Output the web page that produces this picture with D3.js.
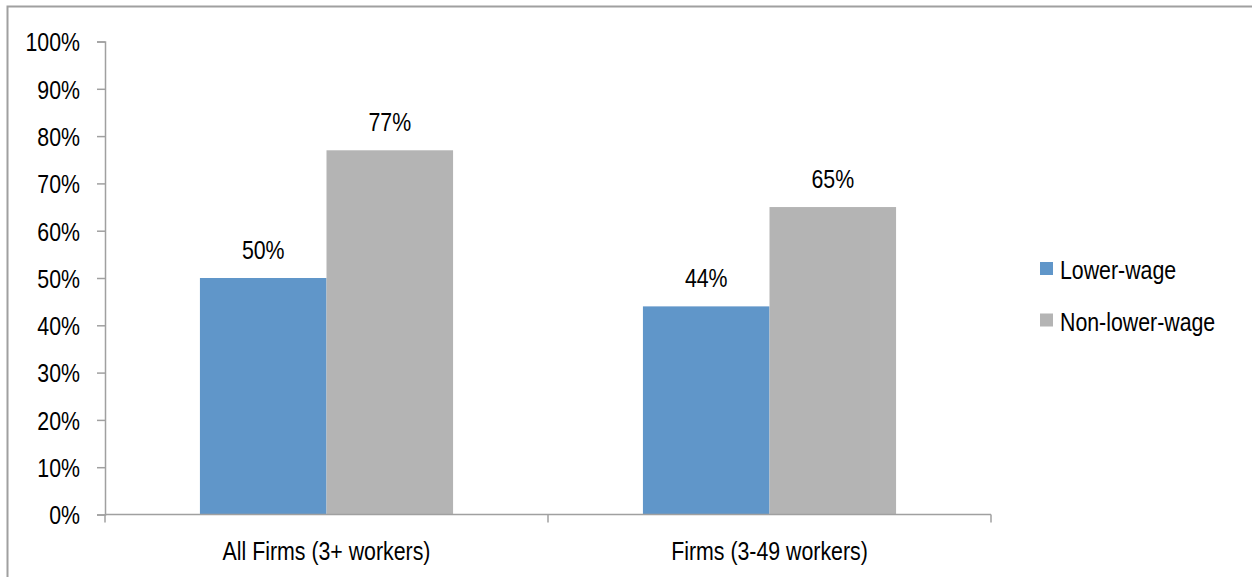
<!DOCTYPE html>
<html>
<head>
<meta charset="utf-8">
<script src="https://cdn.jsdelivr.net/npm/d3@7/dist/d3.min.js"></script>
<style>
  html, body { margin: 0; padding: 0; background: #fff; }
  svg { display: block; }
  text { font-family: "Liberation Sans Narrow", "Arial Narrow", "Liberation Sans", Arial, sans-serif; font-size: 26px; fill: #000; }
</style>
</head>
<body>
<svg id="chart" width="1252" height="577"></svg>
<script>
// chart data
var categories = ["All Firms (3+ workers)", "Firms (3-49 workers)"];
var seriesNames = ["Lower-wage", "Non-lower-wage"];
var lowerWage = [0.50, 0.44];
var nonLowerWage = [0.77, 0.65];
var yTicks = [0, 0.1, 0.2, 0.3, 0.4, 0.5, 0.6, 0.7, 0.8, 0.9, 1.0];

(function () {
  var colors = ["#6096c9", "#b4b4b4"];
  var axisColor = "#a0a0a0";
  var pct = d3.format(".0%");

  var svg = d3.select("#chart");

  // outer frame
  svg.append("path")
    .attr("d", "M7.5,580V6.5H1260")
    .attr("fill", "none")
    .attr("stroke", "#a0a0a0")
    .attr("stroke-width", 2);

  var mLeft = 105, mRight = 991, mTop = 41.5, mBottom = 514.5;

  var y = d3.scaleLinear().domain([0, 1]).range([mBottom, mTop]);
  var x0 = d3.scaleBand().domain(categories).range([mLeft, mRight]);
  var x1 = d3.scaleBand().domain(seriesNames).range([0, x0.bandwidth()]).paddingOuter(0.75);

  var rows = categories.map(function (c, i) {
    return { cat: c, values: [lowerWage[i], nonLowerWage[i]] };
  });

  // y axis
  var yAxis = svg.append("g")
    .attr("transform", "translate(" + mLeft + ",0)")
    .call(d3.axisLeft(y).tickValues(yTicks).tickSize(8).tickPadding(17).tickFormat(pct));
  yAxis.selectAll("path, line").attr("stroke", axisColor).attr("stroke-width", 1.5);
  yAxis.selectAll("text").attr("font-size", null).attr("font-family", null).attr("dy", "0.36em");

  // bars
  var groups = svg.selectAll("g.cat").data(rows).enter().append("g")
    .attr("class", "cat")
    .attr("transform", function (d) { return "translate(" + x0(d.cat) + ",0)"; });

  var cells = function (d) {
    return d.values.map(function (v, j) { return { s: seriesNames[j], v: v, j: j }; });
  };

  groups.selectAll("rect").data(cells).enter().append("rect")
    .attr("x", function (d) { return x1(d.s); })
    .attr("width", x1.bandwidth())
    .attr("y", function (d) { return y(d.v); })
    .attr("height", function (d) { return y(0) - y(d.v); })
    .attr("fill", function (d) { return colors[d.j]; });

  groups.selectAll("text.val").data(cells).enter().append("text")
    .attr("class", "val")
    .attr("x", function (d) { return x1(d.s) + x1.bandwidth() / 2; })
    .attr("y", function (d) { return y(d.v) - 19.5; })
    .attr("text-anchor", "middle")
    .text(function (d) { return pct(d.v); });

  // x axis
  var xAxis = svg.append("g")
    .attr("transform", "translate(0," + mBottom + ")")
    .call(d3.axisBottom(x0).tickSize(0).tickPadding(27));
  xAxis.select(".domain").remove();
  xAxis.selectAll("text").attr("font-size", null).attr("font-family", null);

  var xEdges = categories.map(function (c) { return x0(c); }).concat([x0.range()[1]]);
  xAxis.append("line")
    .attr("x1", mLeft).attr("x2", mRight)
    .attr("stroke", axisColor).attr("stroke-width", 1.5);
  xAxis.selectAll("line.edge").data(xEdges).enter().append("line")
    .attr("class", "edge")
    .attr("x1", function (d) { return d; }).attr("x2", function (d) { return d; })
    .attr("y1", 0).attr("y2", 8)
    .attr("stroke", axisColor).attr("stroke-width", 1.5);

  // legend
  var legend = svg.selectAll("g.legend").data(seriesNames).enter().append("g")
    .attr("class", "legend")
    .attr("transform", function (d, i) { return "translate(1040," + (262 + i * 51.5) + ")"; });
  legend.append("rect")
    .attr("width", 13).attr("height", 13)
    .attr("fill", function (d, i) { return colors[i]; });
  legend.append("text")
    .attr("x", 20).attr("y", 17)
    .text(function (d) { return d; });

  // narrow face: squeeze wide fallback glyphs to Arial Narrow proportions
  var probe = svg.append("text").text("0000000000");
  var ratio = probe.node().getComputedTextLength() / (10 * 0.556 * 26);
  probe.remove();
  if (ratio > 0.9) {
    svg.selectAll("text").each(function () {
      var len = this.getComputedTextLength();
      d3.select(this).attr("textLength", len * 0.82).attr("lengthAdjust", "spacingAndGlyphs");
    });
  }
})();
</script>
</body>
</html>
